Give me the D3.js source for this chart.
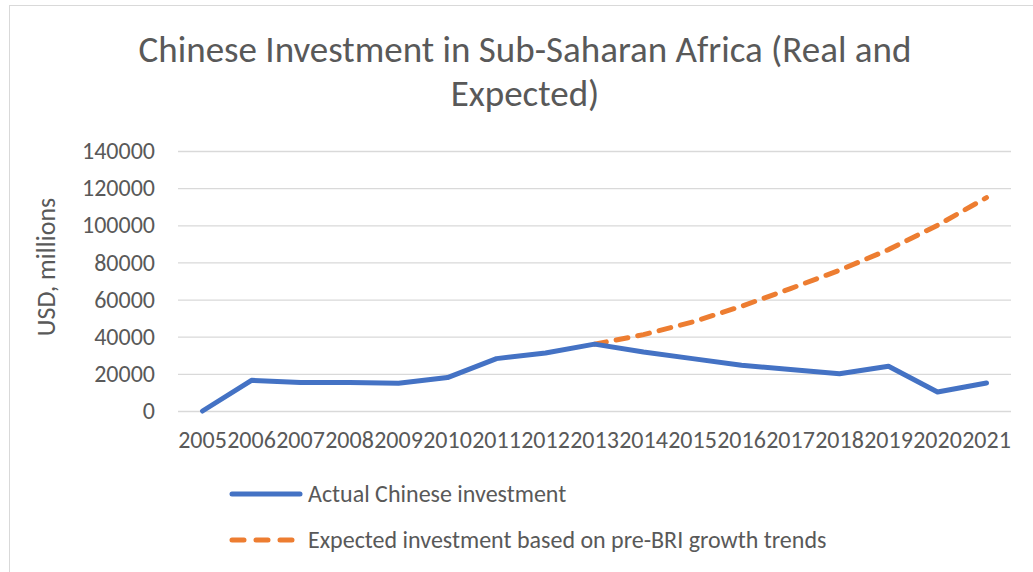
<!DOCTYPE html>
<html>
<head>
<meta charset="utf-8">
<script src="https://cdn.jsdelivr.net/npm/d3@7"></script>
<style>
  body { margin: 0; background: #fff; }
  text { font-family: Carlito, "Open Sans", Lato, sans-serif; fill: #595959; }
</style>
</head>
<body>
<div id="chart"></div>
<script>
// data
var years = ["2005","2006","2007","2008","2009","2010","2011","2012","2013",
             "2014","2015","2016","2017","2018","2019","2020","2021"];
var actual = [0, 16500, 15300, 15400, 14900, 18000, 28200, 31200, 36000,
              31800, 28200, 24600, 22300, 20100, 24100, 10200, 15100];
var expectedYears = ["2013","2014","2015","2016","2017","2018","2019","2020","2021"];
var expected = [36000, 41100, 47900, 56400, 65900, 75800, 86900, 100000, 114900];
var yTicks = [0, 20000, 40000, 60000, 80000, 100000, 120000, 140000];

var W = 1033, H = 572;
var margin = {top: 151, right: 22, bottom: 161, left: 178},
    width = W - margin.left - margin.right,
    height = H - margin.top - margin.bottom;

var svg = d3.select("#chart")
    .append("svg")
    .attr("width", W)
    .attr("height", H);

// chart border
svg.append("rect")
    .attr("x", 9.5).attr("y", 5.5)
    .attr("width", W).attr("height", H)
    .attr("fill", "none")
    .attr("stroke", "#d9d9d9");

// title
svg.append("text")
    .attr("x", 525).attr("y", 62)
    .attr("text-anchor", "middle")
    .style("font-size", "37px")
    .text("Chinese Investment in Sub-Saharan Africa (Real and");
svg.append("text")
    .attr("x", 525).attr("y", 106)
    .attr("text-anchor", "middle")
    .style("font-size", "37px")
    .text("Expected)");

var g = svg.append("g")
    .attr("transform", "translate(" + margin.left + "," + margin.top + ")");

var x = d3.scaleBand()
    .range([0, width])
    .domain(years);

var y = d3.scaleLinear()
    .domain([0, 140000])
    .range([height, 0]);

// gridlines
g.append("g")
    .attr("class", "grid")
    .call(d3.axisLeft(y).tickValues(yTicks).tickSize(-width).tickFormat(""))
    .call(function(a) {
        a.select(".domain").remove();
        a.selectAll("line").attr("stroke", "#d9d9d9").attr("stroke-width", 1.3);
    });

// Y axis labels
g.append("g")
    .call(d3.axisLeft(y).tickValues(yTicks).tickSize(0).tickPadding(23).tickFormat(d3.format("d")))
    .call(function(a) {
        a.select(".domain").remove();
        a.selectAll("text").style("font-size", "24px").attr("fill", "#595959");
    });

// X axis labels
g.append("g")
    .attr("transform", "translate(0," + height + ")")
    .call(d3.axisBottom(x).tickSize(0).tickPadding(20))
    .call(function(a) {
        a.select(".domain").remove();
        a.selectAll("text").style("font-size", "24px").attr("fill", "#595959");
    });

// Y axis title
svg.append("text")
    .attr("transform", "translate(55,267) rotate(-90)")
    .attr("text-anchor", "middle")
    .style("font-size", "26px")
    .text("USD, millions");

var line = d3.line()
    .x(function(d) { return x(d.year) + x.bandwidth() / 2; })
    .y(function(d) { return y(d.value); });

var actualData = years.map(function(d, i) { return {year: d, value: actual[i]}; });
var expectedData = expectedYears.map(function(d, i) { return {year: d, value: expected[i]}; });

g.append("path")
    .datum(expectedData)
    .attr("fill", "none")
    .attr("stroke", "#ED7D31")
    .attr("stroke-width", 5)
    .attr("stroke-linecap", "round")
    .attr("stroke-dasharray", "12,10")
    .attr("d", line);

g.append("path")
    .datum(actualData)
    .attr("fill", "none")
    .attr("stroke", "#4472C4")
    .attr("stroke-width", 5)
    .attr("stroke-linejoin", "round")
    .attr("stroke-linecap", "round")
    .attr("d", line);

// legend
var legend = [
    {name: "Actual Chinese investment", color: "#4472C4", dash: null, y: 494},
    {name: "Expected investment based on pre-BRI growth trends", color: "#ED7D31", dash: "12,12", y: 540}
];
legend.forEach(function(l) {
    svg.append("line")
        .attr("x1", 232).attr("x2", 300)
        .attr("y1", l.y).attr("y2", l.y)
        .attr("stroke", l.color)
        .attr("stroke-width", 5)
        .attr("stroke-linecap", "round")
        .attr("stroke-dasharray", l.dash);
    svg.append("text")
        .attr("x", 308).attr("y", l.y + 8)
        .style("font-size", "24px")
        .text(l.name);
});
</script>
</body>
</html>
